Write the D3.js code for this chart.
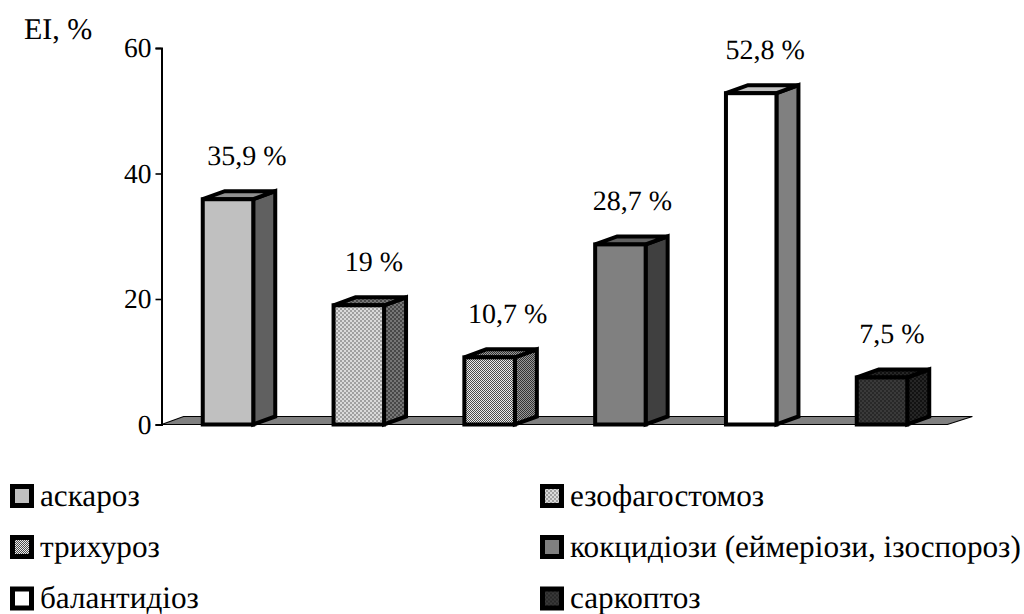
<!DOCTYPE html>
<html>
<head>
<meta charset="utf-8">
<script src="https://cdn.jsdelivr.net/npm/d3@7"></script>
<style>
html,body{margin:0;padding:0;background:#fff}
svg{display:block}
text{font-family:"Liberation Serif","Times New Roman",serif;fill:#000;text-rendering:geometricPrecision}
</style>
</head>
<body>
<svg id="chart" width="1024" height="614"></svg>
<script>
const categories = ["аскароз","езофагостомоз","трихуроз","кокцидіози (еймеріози, ізоспороз)","балантидіоз","саркоптоз"];
const values = [35.9,19,10.7,28.7,52.8,7.5];
const valueLabels = ["35,9 %","19 %","10,7 %","28,7 %","52,8 %","7,5 %"];
const barOrder = [0,1,2,3,4,5];
const yTicks = [0,20,40,60];
const yTitle = "EI, %";

// Shades per series: front face, side face, top face.
const frontFills = ["#c0c0c0","url(#dots-light)","url(#weave-light)","#808080","#ffffff","url(#dots-dark)"];
const sideFills  = ["#606060","url(#dots-mid)","url(#weave-mid)","#404040","#808080","url(#dots-black)"];
const topFills   = ["#909090","url(#dots-mid)","url(#weave-mid)","#606060","#c0c0c0","url(#dots-black)"];

const svg = d3.select("#chart");
const defs = svg.append("defs");

// Two-tone checker: cell is the square size in pixels.
function dots(id, a, b, cell){
  const p = defs.append("pattern").attr("id",id).attr("width",cell*2).attr("height",cell*2).attr("patternUnits","userSpaceOnUse");
  p.append("rect").attr("width",cell*2).attr("height",cell*2).attr("fill",a);
  p.append("rect").attr("width",cell).attr("height",cell).attr("fill",b);
  p.append("rect").attr("x",cell).attr("y",cell).attr("width",cell).attr("height",cell).attr("fill",b);
}
dots("dots-light","#dadada","#a0a0a0",2);
dots("dots-mid","#767676","#484848",2);
dots("dots-dark","#3a3a3a","#282828",2);
dots("dots-black","#262626","#121212",2);
dots("weave-light","#ececec","#4c4c4c",1);
dots("weave-mid","#999999","#333333",1);

const x = d3.scaleBand().domain(barOrder).range([162.6,947.4]).paddingInner(0.614).paddingOuter(0.307);
const y = d3.scaleLinear().domain([0,60]).range([424.5,48]);
const depthX = 22, depthY = -8;

// Floor of the 3-D plot
const floorLeft = x.range()[0] - 1, floorRight = x.range()[1];
svg.append("path")
  .attr("d",`M${floorLeft},${y(0)}L${floorLeft+depthX},${y(0)+depthY}H${floorRight+depthX+3}L${floorRight},${y(0)}Z`)
  .attr("fill","#808080").attr("stroke","#000").attr("stroke-width",1.2);

// Value axis
const axis = d3.axisLeft(y).tickValues(yTicks).tickSize(6).tickPadding(4);
const gAxis = svg.append("g").attr("transform","translate(161.5,0)").call(axis);
gAxis.select(".domain").attr("stroke","#000").attr("stroke-width",2);
gAxis.selectAll(".tick line").attr("stroke","#000").attr("stroke-width",1.6);
gAxis.selectAll("text").style("font-family",'"Liberation Serif",serif').style("font-size","27.5px").attr("fill","#000");

// Bars: front, side and top faces
const bars = svg.append("g").selectAll("g").data(barOrder).join("g")
  .attr("stroke","#000").attr("stroke-width",4).attr("stroke-linejoin","miter");
bars.append("path").attr("fill",i=>sideFills[i]).attr("d",i=>{
  const r=x(i)+x.bandwidth(), t=y(values[i]), b=y(0);
  return `M${r},${t}L${r+depthX},${t+depthY}V${b+depthY}L${r},${b}Z`;
});
bars.append("path").attr("fill",i=>topFills[i]).attr("d",i=>{
  const l=x(i), r=l+x.bandwidth(), t=y(values[i]);
  return `M${l},${t}L${l+depthX},${t+depthY}H${r+depthX}L${r},${t}Z`;
});
bars.append("rect").attr("fill",i=>frontFills[i])
  .attr("x",i=>x(i)).attr("width",x.bandwidth())
  .attr("y",i=>y(values[i])).attr("height",i=>y(0)-y(values[i]));

// Value labels above the bars, each shifted right of its bar's centre
const labelShift = [19,15,18,12,14,10];
svg.append("g").selectAll("text").data(barOrder).join("text")
  .attr("x",i=>x(i)+x.bandwidth()/2+labelShift[i])
  .attr("y",i=>y(values[i])-34)
  .attr("text-anchor","middle").attr("font-size",28)
  .text(i=>valueLabels[i]);

svg.append("text").attr("x",24).attr("y",39).attr("font-size",30).text(yTitle);

// Legend in two columns
const legendCols = [10,540], legendRows = [496,547,598.5];
const legend = svg.append("g").selectAll("g").data(categories).join("g")
  .attr("transform",(d,i)=>`translate(${legendCols[i%2]},${legendRows[Math.floor(i/2)]})`);
legend.append("rect").attr("x",2.5).attr("y",-9.5).attr("width",19).attr("height",19)
  .attr("fill",(d,i)=>frontFills[i]).attr("stroke","#000").attr("stroke-width",5);
legend.append("text").attr("x",30).attr("y",9.5).attr("font-size",31.2).text(d=>d);
</script>
</body>
</html>
